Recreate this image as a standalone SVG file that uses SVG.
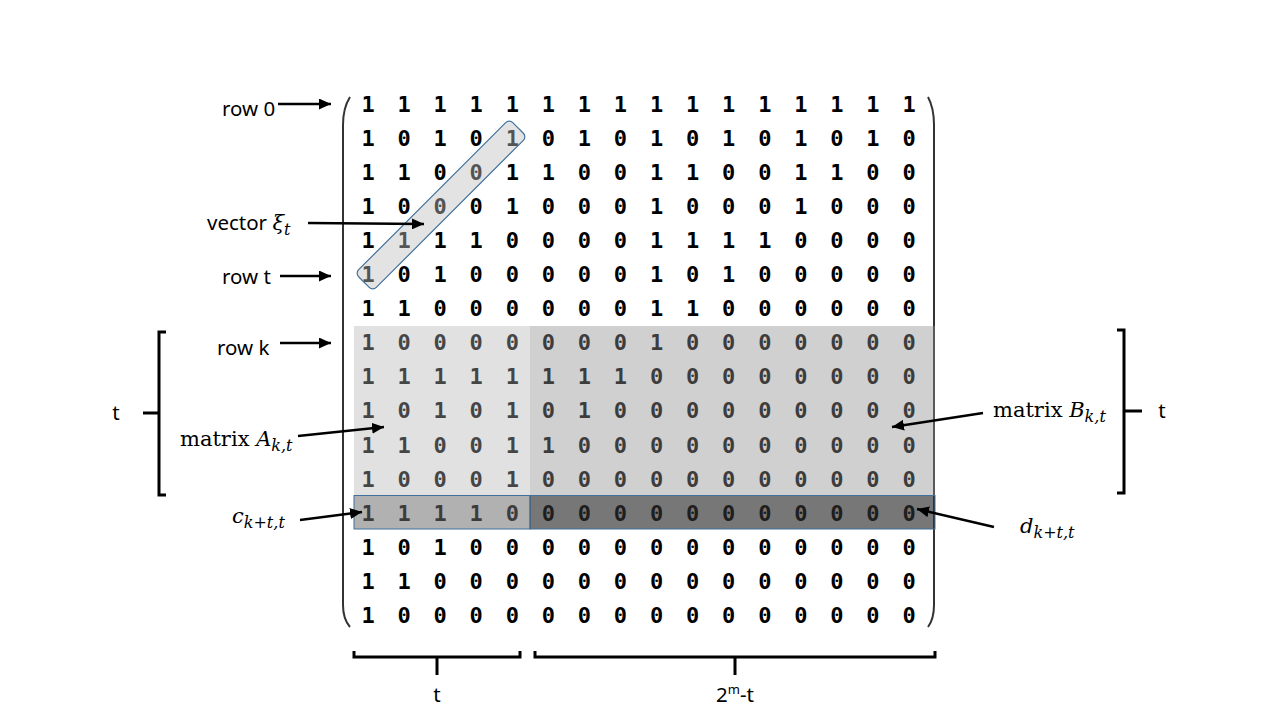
<svg xmlns="http://www.w3.org/2000/svg" width="1280" height="720" viewBox="0 0 1280 720">
<defs>
<marker id="ah" markerUnits="userSpaceOnUse" markerWidth="13" markerHeight="11" refX="12" refY="5.5" orient="auto">
<path d="M0,0 L12,5.5 L0,11 Z" fill="#000"/>
</marker>
<style>
.d{font-family:"DejaVu Sans Mono",monospace;font-weight:bold;font-size:22px;fill:#000;text-anchor:middle}
.lbl{font-family:"Noto Sans","Open Sans",sans-serif;font-size:20.5px;fill:#000}
.m{font-family:"DejaVu Serif","Liberation Serif",serif;font-size:21px;fill:#000}
.it{font-style:italic}
.sub{font-style:italic;font-size:16px}
.ar{stroke:#000;stroke-width:2.4;fill:none;marker-end:url(#ah)}
.br{stroke:#000;stroke-width:3;fill:none}
.paren{stroke:#333;stroke-width:2;fill:none}
</style>
</defs>
<rect width="1280" height="720" fill="#fff"/>
<g id="matrix">
<g class="d">
<text x="368 404.07 440.14 476.21 512.28 548.35 584.42 620.49 656.56 692.63 728.7 764.77 800.84 836.91 872.98 909.05" y="111.5">1111111111111111</text>
<text x="368 404.07 440.14 476.21 512.28 548.35 584.42 620.49 656.56 692.63 728.7 764.77 800.84 836.91 872.98 909.05" y="145.6">1010101010101010</text>
<text x="368 404.07 440.14 476.21 512.28 548.35 584.42 620.49 656.56 692.63 728.7 764.77 800.84 836.91 872.98 909.05" y="179.7">1100110011001100</text>
<text x="368 404.07 440.14 476.21 512.28 548.35 584.42 620.49 656.56 692.63 728.7 764.77 800.84 836.91 872.98 909.05" y="213.8">1000100010001000</text>
<text x="368 404.07 440.14 476.21 512.28 548.35 584.42 620.49 656.56 692.63 728.7 764.77 800.84 836.91 872.98 909.05" y="247.9">1111000011110000</text>
<text x="368 404.07 440.14 476.21 512.28 548.35 584.42 620.49 656.56 692.63 728.7 764.77 800.84 836.91 872.98 909.05" y="282">1010000010100000</text>
<text x="368 404.07 440.14 476.21 512.28 548.35 584.42 620.49 656.56 692.63 728.7 764.77 800.84 836.91 872.98 909.05" y="316.1">1100000011000000</text>
<text x="368 404.07 440.14 476.21 512.28 548.35 584.42 620.49 656.56 692.63 728.7 764.77 800.84 836.91 872.98 909.05" y="350.2">1000000010000000</text>
<text x="368 404.07 440.14 476.21 512.28 548.35 584.42 620.49 656.56 692.63 728.7 764.77 800.84 836.91 872.98 909.05" y="384.3">1111111100000000</text>
<text x="368 404.07 440.14 476.21 512.28 548.35 584.42 620.49 656.56 692.63 728.7 764.77 800.84 836.91 872.98 909.05" y="418.4">1010101000000000</text>
<text x="368 404.07 440.14 476.21 512.28 548.35 584.42 620.49 656.56 692.63 728.7 764.77 800.84 836.91 872.98 909.05" y="452.5">1100110000000000</text>
<text x="368 404.07 440.14 476.21 512.28 548.35 584.42 620.49 656.56 692.63 728.7 764.77 800.84 836.91 872.98 909.05" y="486.6">1000100000000000</text>
<text x="368 404.07 440.14 476.21 512.28 548.35 584.42 620.49 656.56 692.63 728.7 764.77 800.84 836.91 872.98 909.05" y="520.7">1111000000000000</text>
<text x="368 404.07 440.14 476.21 512.28 548.35 584.42 620.49 656.56 692.63 728.7 764.77 800.84 836.91 872.98 909.05" y="554.8">1010000000000000</text>
<text x="368 404.07 440.14 476.21 512.28 548.35 584.42 620.49 656.56 692.63 728.7 764.77 800.84 836.91 872.98 909.05" y="588.9">1100000000000000</text>
<text x="368 404.07 440.14 476.21 512.28 548.35 584.42 620.49 656.56 692.63 728.7 764.77 800.84 836.91 872.98 909.05" y="623">1000000000000000</text>
</g>
<path class="paren" d="M350,97 Q343,108 343,125 L343,605 Q343,619 350,627"/>
<path class="paren" d="M928,97 Q934,108 934,125 L934,605 Q934,619 928,627"/>
</g>
<g id="regionA"><rect x="354" y="326" width="176" height="169.5" fill="#b2b2b2" fill-opacity="0.39"/></g>
<g id="regionB"><rect x="530" y="326" width="405" height="169.5" fill="#8e8e8e" fill-opacity="0.42"/></g>
<g id="rowC"><rect x="354" y="495.5" width="176" height="33.5" fill="#6f6f6f" fill-opacity="0.54" stroke="#41719c" stroke-width="1"/></g>
<g id="rowD"><rect x="530" y="495.5" width="405" height="33.5" fill="#2e2e2e" fill-opacity="0.65" stroke="#41719c" stroke-width="1"/></g>
<g id="vectorXi"><rect x="332" y="192.5" width="218" height="25" rx="5" transform="rotate(-45 441 205)" fill="#c0c0c0" fill-opacity="0.44" stroke="#41719c" stroke-width="1.2"/></g>
<g id="labels">
<g id="lbl-row0"><text class="lbl" x="222" y="116">row 0</text></g>
<g id="lbl-vector"><text class="lbl" x="207" y="230">vector <tspan class="m it" font-size="22">ξ</tspan><tspan class="m sub" dy="5">t</tspan></text></g>
<g id="lbl-rowt"><text class="lbl" x="222" y="284">row t</text></g>
<g id="lbl-rowk"><text class="lbl" x="217" y="355">row k</text></g>
<g id="lbl-A"><text class="m" x="180" y="446">matrix <tspan class="it">A</tspan><tspan class="sub" dy="5">k,t</tspan></text></g>
<g id="lbl-c"><text class="m" x="232" y="523"><tspan class="it">c</tspan><tspan class="sub" dy="5">k+t,t</tspan></text></g>
<g id="lbl-B"><text class="m" x="993" y="417">matrix <tspan class="it">B</tspan><tspan class="sub" dy="5">k,t</tspan></text></g>
<g id="lbl-d"><text class="m" x="1020" y="533"><tspan class="it">d</tspan><tspan class="sub" dy="5">k+t,t</tspan></text></g>
<g id="lbl-tleft"><text class="lbl" x="116" y="420" text-anchor="middle">t</text></g>
<g id="lbl-tright"><text class="lbl" x="1162" y="418" text-anchor="middle">t</text></g>
<g id="lbl-tbottom"><text class="lbl" x="437" y="702" text-anchor="middle">t</text></g>
<g id="lbl-2mt"><text class="lbl" x="735" y="702" text-anchor="middle">2<tspan font-size="13" dy="-8">m</tspan><tspan dy="8">-t</tspan></text></g>
</g>
<g id="brackets">
<path class="br" d="M166,332 H159 V495 H166 M143,413 H159"/>
<path class="br" d="M1117,330 H1124 V493 H1117 M1124,411 H1142"/>
<path class="br" stroke-width="2.5" d="M354,651 V657 H520 V651 M437,657 V675"/>
<path class="br" stroke-width="2.5" d="M535,651 V657 H935 V651 M735,657 V675"/>
</g>
<g id="connectors">
<line class="ar" x1="278" y1="104" x2="331" y2="104"/>
<line class="ar" x1="280" y1="276" x2="331" y2="276"/>
<line class="ar" x1="308" y1="223" x2="424" y2="224"/>
<line class="ar" x1="280" y1="343" x2="331" y2="343"/>
<line class="ar" x1="298" y1="436" x2="384" y2="427"/>
<line class="ar" x1="300" y1="520" x2="362" y2="512"/>
<line class="ar" x1="983" y1="413" x2="892" y2="427"/>
<line class="ar" x1="994" y1="527" x2="917" y2="509"/>
</g>
</svg>
